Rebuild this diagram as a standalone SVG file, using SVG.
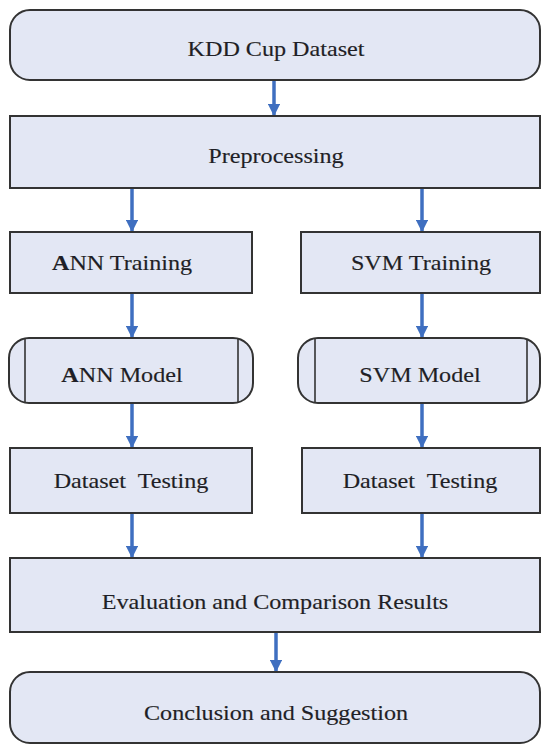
<svg xmlns="http://www.w3.org/2000/svg" width="542" height="747" viewBox="0 0 542 747">
  <defs>
    <style>
      .box { fill: #e3e7f4; stroke: #333; stroke-width: 2; }
      .side { fill: none; stroke: #333; stroke-width: 1.6; }
      .lbl { font-size: 21px; fill: #1f1f26; stroke: #1f1f26; stroke-width: 0.15; text-anchor: middle; }
      .b { font-weight: bold; }
      .link { stroke: #3f6fc0; stroke-width: 3.5; fill: none; marker-end: url(#head); }
    </style>
    <marker id="head" viewBox="0 0 10 10" refX="9" refY="5" markerWidth="3.6" markerHeight="3.6" markerUnits="strokeWidth" orient="auto">
      <path d="M0,0 L10,5 L0,10 Z" fill="#3f6fc0"/>
    </marker>
  </defs>
  <rect width="542" height="747" fill="#ffffff"/>

  <g id="connectors">
    <line class="link" x1="274" y1="81" x2="274" y2="115"/>
    <line class="link" x1="132" y1="189" x2="132" y2="231"/>
    <line class="link" x1="422" y1="189" x2="422" y2="231"/>
    <line class="link" x1="132" y1="294" x2="132" y2="337"/>
    <line class="link" x1="422" y1="294" x2="422" y2="337"/>
    <line class="link" x1="132" y1="404" x2="132" y2="447"/>
    <line class="link" x1="422" y1="404" x2="422" y2="447"/>
    <line class="link" x1="132" y1="514" x2="132" y2="557"/>
    <line class="link" x1="422" y1="514" x2="422" y2="557"/>
    <line class="link" x1="276" y1="633" x2="276" y2="671"/>
  </g>

  <g font-family="'Liberation Serif', 'DejaVu Serif', serif">
    <g id="kdd">
      <rect class="box" x="10" y="10" width="530" height="70" rx="20"/>
      <text class="lbl" transform="translate(276,56) scale(1.15,1)">KDD Cup Dataset</text>
    </g>

    <g id="preprocessing">
      <rect class="box" x="10" y="116" width="530" height="72"/>
      <text class="lbl" transform="translate(276,163) scale(1.15,1)">Preprocessing</text>
    </g>

    <g id="ann-training">
      <rect class="box" x="10" y="232" width="242" height="61"/>
      <text class="lbl" transform="translate(122,270) scale(1.15,1)"><tspan class="b">A</tspan>NN Training</text>
    </g>

    <g id="svm-training">
      <rect class="box" x="301" y="232" width="239" height="61"/>
      <text class="lbl" transform="translate(421,270) scale(1.15,1)">SVM Training</text>
    </g>

    <g id="ann-model">
      <rect class="box" x="9" y="338" width="244" height="65" rx="20"/>
      <line class="side" x1="25" y1="339" x2="25" y2="402"/>
      <line class="side" x1="238" y1="339" x2="238" y2="402"/>
      <text class="lbl" transform="translate(122,382) scale(1.15,1)"><tspan class="b">A</tspan>NN Model</text>
    </g>

    <g id="svm-model">
      <rect class="box" x="298" y="338" width="242" height="65" rx="20"/>
      <line class="side" x1="315" y1="339" x2="315" y2="402"/>
      <line class="side" x1="527" y1="339" x2="527" y2="402"/>
      <text class="lbl" transform="translate(420,382) scale(1.15,1)">SVM Model</text>
    </g>

    <g id="ann-testing">
      <rect class="box" x="10" y="448" width="242" height="65"/>
      <text class="lbl" transform="translate(131,488) scale(1.15,1)" xml:space="preserve">Dataset  Testing</text>
    </g>

    <g id="svm-testing">
      <rect class="box" x="302" y="448" width="238" height="65"/>
      <text class="lbl" transform="translate(420,488) scale(1.15,1)" xml:space="preserve">Dataset  Testing</text>
    </g>

    <g id="evaluation">
      <rect class="box" x="10" y="558" width="530" height="74"/>
      <text class="lbl" transform="translate(275,609) scale(1.15,1)">Evaluation and Comparison Results</text>
    </g>

    <g id="conclusion">
      <rect class="box" x="10" y="672" width="530" height="71" rx="20"/>
      <text class="lbl" transform="translate(276,720) scale(1.15,1)">Conclusion and Suggestion</text>
    </g>
  </g>
</svg>
